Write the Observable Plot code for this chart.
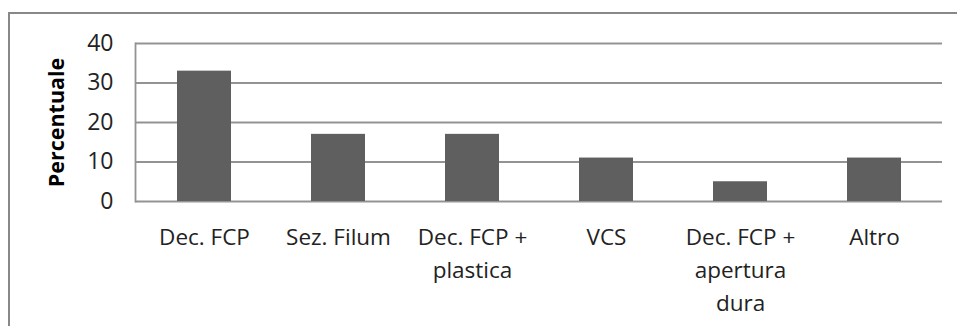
<!DOCTYPE html>
<html>
<head>
<meta charset="utf-8">
<script src="https://cdn.jsdelivr.net/npm/d3@7"></script>
<script src="https://cdn.jsdelivr.net/npm/@observablehq/plot@0.6"></script>
<style>
  html, body { margin: 0; padding: 0; background: #fff; }
  #wrap { position: relative; width: 957px; height: 326px; overflow: hidden; background: #fff; }
  #box { position: absolute; left: 8px; top: 12px; width: 1000px; height: 400px; border: 2px solid #888; box-sizing: border-box; }
  #chart { position: absolute; left: 0; top: 0; }
</style>
</head>
<body>
<div id="wrap">
  <div id="box"></div>
  <div id="chart"></div>
</div>
<script>
// Procedure categories and their share (%)
const categories = ["Dec. FCP", "Sez. Filum", "Dec. FCP + plastica", "VCS", "Dec. FCP + apertura dura", "Altro"];
const values = [33, 17, 17, 11, 5, 11];
// Wrapped tick labels for the x axis
const tickLabels = ["Dec. FCP", "Sez. Filum", "Dec. FCP +\nplastica", "VCS", "Dec. FCP +\napertura\ndura", "Altro"];
const yTicks = [0, 10, 20, 30, 40];
const yTitle = "Percentuale";

const data = categories.map((c, i) => ({category: c, value: values[i]}));
const labelOf = new Map(categories.map((c, i) => [c, tickLabels[i]]));

const font = "'Open Sans', sans-serif";

const chart = Plot.plot({
  width: 957,
  height: 326,
  marginLeft: 135,
  marginRight: 15,
  marginTop: 43,
  marginBottom: 125,
  style: {fontFamily: font, background: "transparent", color: "#222"},
  x: {domain: categories, paddingInner: 0.6, paddingOuter: 0.3, label: null},
  y: {domain: [0, 40], label: null},
  marks: [
    Plot.gridY(yTicks, {stroke: "#939393", strokeOpacity: 1, strokeWidth: 1.8}),
    Plot.frame({anchor: "left", stroke: "#939393", strokeWidth: 1.8}),
    Plot.barY(data, {x: "category", y: "value", fill: "#5f5f5f"}),
    Plot.axisY(yTicks, {tickSize: 0, tickPadding: 22, fontSize: 23, label: null, fill: "#222"}),
    Plot.axisX({tickSize: 0, tickPadding: 20, fontSize: 22.5, lineHeight: 1.47, tickFormat: d => labelOf.get(d), label: null, fill: "#222"}),
    Plot.text([yTitle], {frameAnchor: "left", textAnchor: "middle", rotate: -90, dx: -78, fontWeight: "bold", fontSize: 21.5, fill: "#000"})
  ]
});

document.getElementById("chart").appendChild(chart);
</script>
</body>
</html>
